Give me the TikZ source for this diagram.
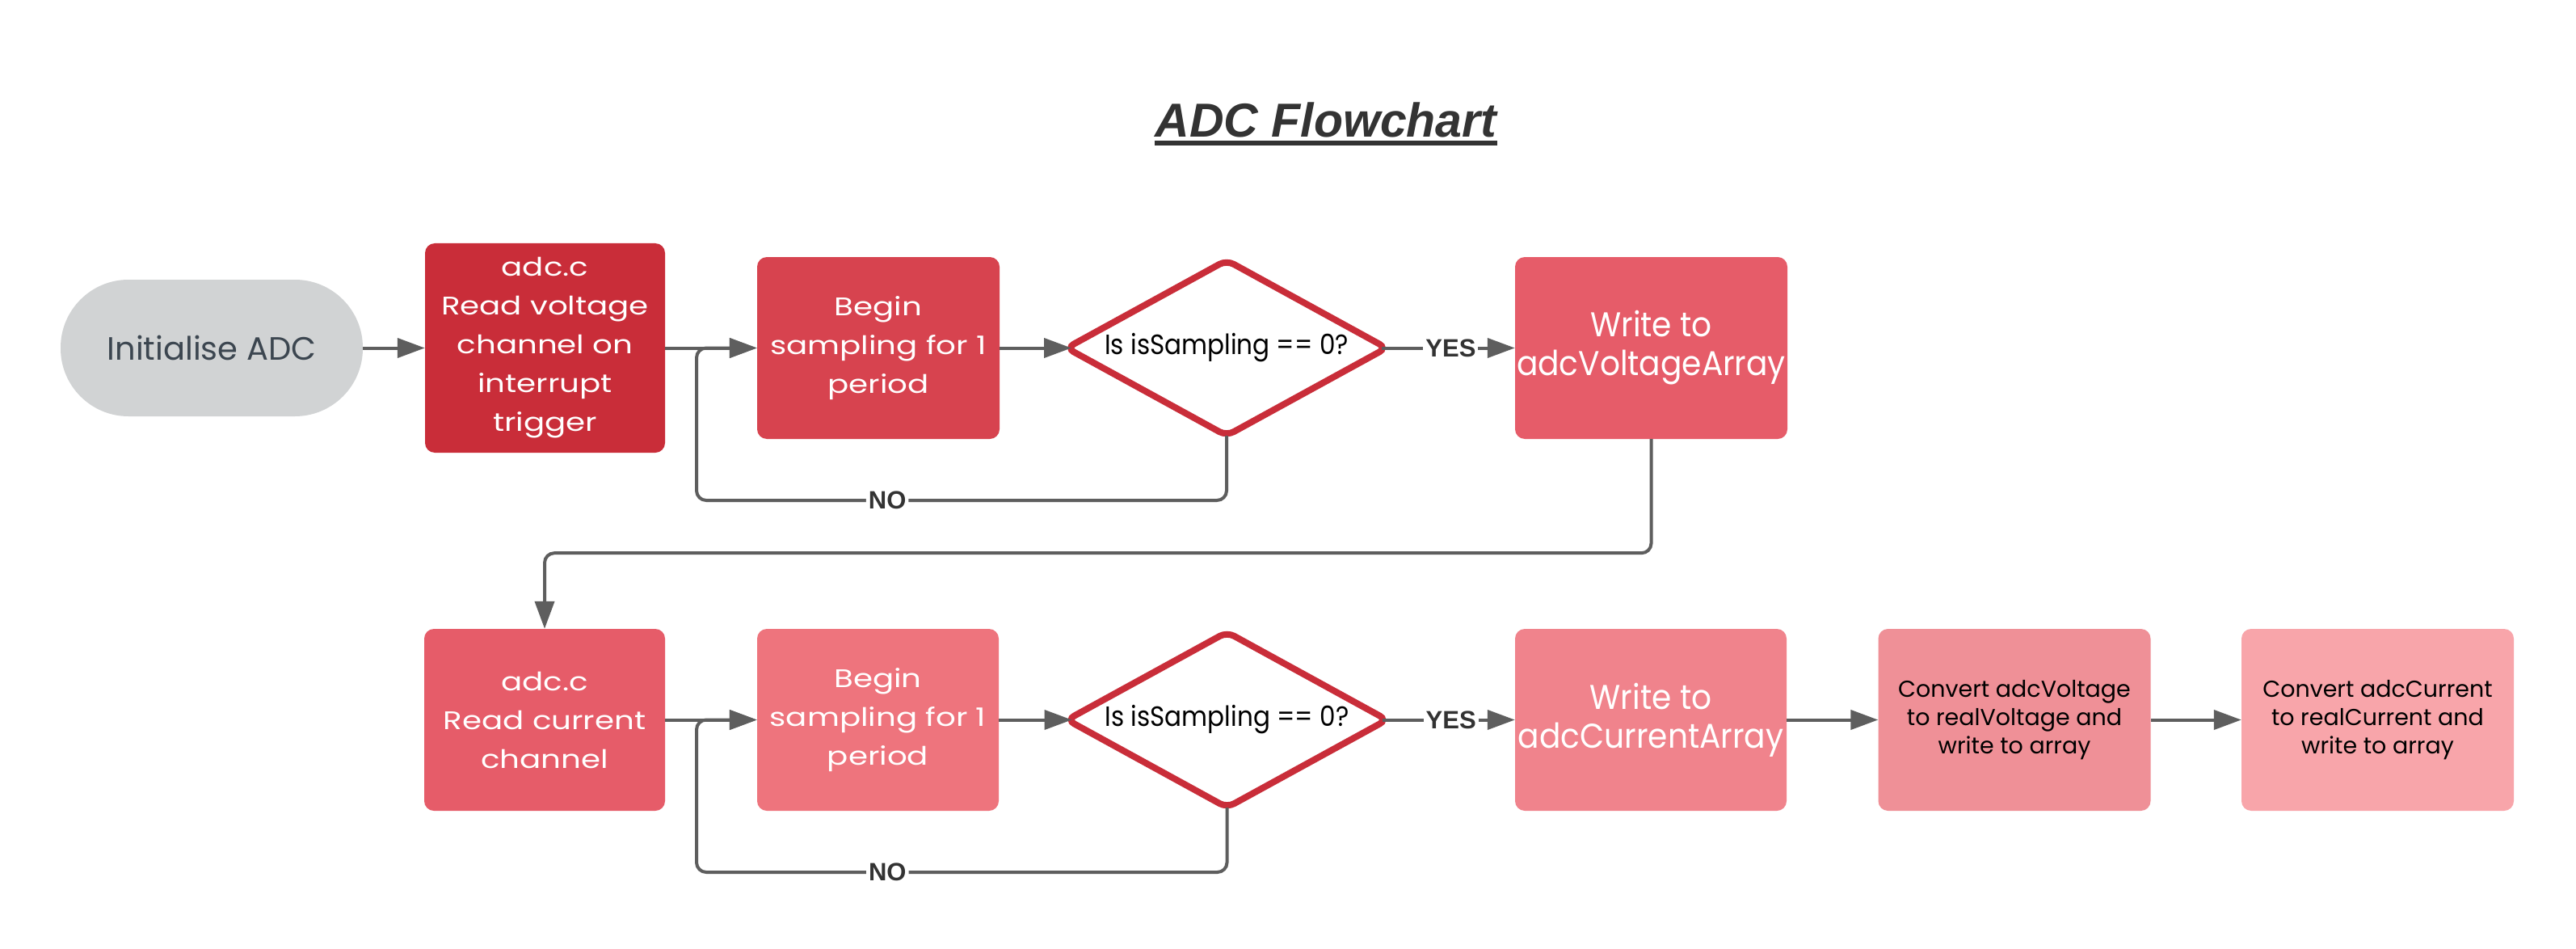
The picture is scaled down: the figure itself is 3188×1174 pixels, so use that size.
\documentclass[tikz,border=0pt]{standalone}
\usepackage{fontspec}
\setmainfont{Liberation Sans}
\newfontfamily\pop{Poppins}
\newfontfamily\popW[FakeStretch=1.23]{Poppins}
\newfontfamily\popN[FakeStretch=0.92]{Poppins}
\newfontfamily\popD[FakeStretch=0.9]{Poppins}
\usetikzlibrary{shapes.geometric,arrows.meta,calc}
\definecolor{redA}{HTML}{C92D39}
\definecolor{redB}{HTML}{D7434F}
\definecolor{redC}{HTML}{E65C69}
\definecolor{redD}{HTML}{EE747D}
\definecolor{redE}{HTML}{F0838C}
\definecolor{redF}{HTML}{EF9097}
\definecolor{redG}{HTML}{F8A5AA}
\definecolor{initgray}{HTML}{D1D3D4}
\definecolor{inittext}{HTML}{3C4650}
\definecolor{arrgray}{HTML}{5E5E5E}
\definecolor{lblgray}{HTML}{333333}
\begin{document}
\begin{tikzpicture}[x=1pt,y=-1pt,
  proc/.style={rectangle, rounded corners=12pt, inner sep=0pt, align=center, text=white},
  small/.style={font=\popW\fontsize{31.5}{48}\selectfont},
  big/.style={font=\popN\fontsize{42.5}{48}\selectfont},
  tiny/.style={font=\pop\fontsize{28.5}{35}\selectfont, text=black},
  dectext/.style={rectangle, inner sep=0pt, outer sep=0pt, minimum width=396pt, minimum height=217pt,
    align=center, text=black, font=\popD\fontsize{34.5}{40}\selectfont},
  decline/.style={draw=redA, line width=8pt, rounded corners=10pt},
  arr/.style={draw=arrgray, line width=4pt, -{Triangle[length=34pt,width=24pt]}},
  lbl/.style={font=\bfseries\fontsize{31}{36}\selectfont, text=lblgray, fill=white, inner sep=3pt},
]
\fill[white] (0,0) rectangle (3188,1174);
\useasboundingbox (0,0) rectangle (3188,1174);

% title
\node[font=\bfseries\itshape\fontsize{59}{70}\selectfont, text=lblgray, anchor=base, inner sep=0pt] (title) at (1641,170) {ADC Flowchart};
\draw[lblgray, line width=6pt] ($(title.base west)+(0,7)$) -- ($(title.base east)+(0,7)$);

% row 1
\node[rectangle, rounded corners=84pt, fill=initgray, minimum width=374pt, minimum height=169pt, inner sep=0pt,
  text=inittext, font=\pop\fontsize{40}{48}\selectfont] (init) at (262,430.5) {Initialise ADC};
\node[proc, small, fill=redA, minimum width=297pt, minimum height=259pt] (b1) at (674.5,430.5)
  {adc.c\\Read voltage\\channel on\\interrupt\\trigger};
\node[proc, small, fill=redB, minimum width=300pt, minimum height=225pt] (b2) at (1087,430.5)
  {Begin\\sampling for 1\\period};
\node[dectext] (d1) at (1518,430.5) {Is isSampling == 0?};
\draw[decline] ($(d1.north)!0.5!(d1.east)$) -- (d1.east) -- (d1.south) -- (d1.west) -- (d1.north) -- cycle;
\node[proc, big, fill=redC, minimum width=337pt, minimum height=225pt] (b3) at (2043.5,430.5)
  {Write to\\adcVoltageArray};

% row 2
\node[proc, small, fill=redC, minimum width=298pt, minimum height=225pt] (b4) at (674,890.5)
  {adc.c\\Read current\\channel};
\node[proc, small, fill=redD, minimum width=299pt, minimum height=225pt] (b5) at (1086.5,890.5)
  {Begin\\sampling for 1\\period};
\node[dectext] (d2) at (1518.5,890.5) {Is isSampling == 0?};
\draw[decline] ($(d2.north)!0.5!(d2.east)$) -- (d2.east) -- (d2.south) -- (d2.west) -- (d2.north) -- cycle;
\node[proc, big, fill=redE, minimum width=336pt, minimum height=225pt] (b6) at (2043,890.5)
  {Write to\\adcCurrentArray};
\node[proc, tiny, fill=redF, minimum width=337pt, minimum height=225pt] (b7) at (2493,890.5)
  {Convert adcVoltage\\to realVoltage and\\write to array};
\node[proc, tiny, fill=redG, minimum width=337pt, minimum height=225pt] (b8) at (2942.5,890.5)
  {Convert adcCurrent\\to realCurrent and\\write to array};

% loop corner coordinates
\coordinate (n1) at (862,619);
\coordinate (n2) at (862,1079);

% connectors row 1
\draw[arr] (init) -- (b1);
\draw[arr] (b1) -- (b2);
\draw[arr, shorten >=-6pt] (b2) -- (d1.west);
\draw[arr, shorten <=-6pt] (d1.east) -- node[lbl] {YES} (b3.west);
\draw[arr, rounded corners=12pt] (d1.south) |- node[lbl, pos=0.82] {NO} (n1) |- (b2.west);
\draw[arr, rounded corners=12pt] (b3.south) -- ++(0,141) -| (b4.north);

% connectors row 2
\draw[arr] (b4) -- (b5);
\draw[arr, shorten >=-6pt] (b5) -- (d2.west);
\draw[arr, shorten <=-6pt] (d2.east) -- node[lbl] {YES} (b6.west);
\draw[arr, rounded corners=12pt] (d2.south) |- node[lbl, pos=0.82] {NO} (n2) |- (b5.west);
\draw[arr] (b6) -- (b7);
\draw[arr] (b7) -- (b8);
\end{tikzpicture}
\end{document}
